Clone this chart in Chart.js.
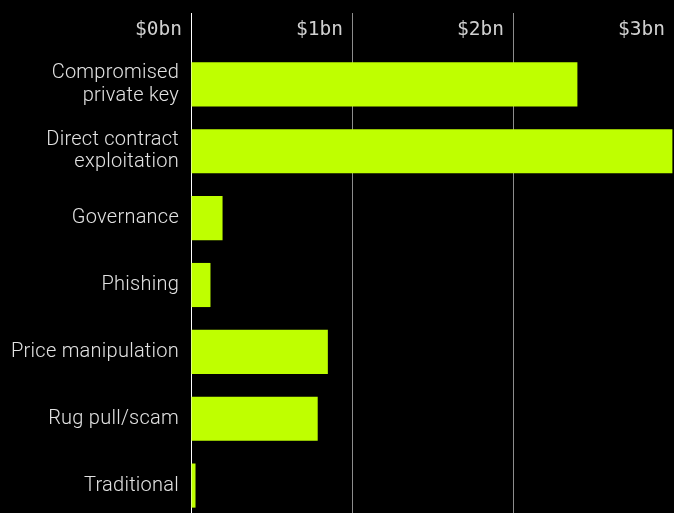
<!DOCTYPE html>
<html>
<head>
<meta charset="utf-8">
<script src="https://cdn.jsdelivr.net/npm/chart.js@4/dist/chart.umd.min.js"></script>
<style>
  html, body { margin: 0; padding: 0; background: #000; overflow: hidden; width: 674px; height: 513px; }
  canvas { display: block; }
</style>
</head>
<body>
<canvas id="c" width="674" height="519"></canvas>
<script>
const categories = [
  ["Compromised", "private key"],
  ["Direct contract", "exploitation"],
  "Governance",
  "Phishing",
  "Price manipulation",
  "Rug pull/scam",
  "Traditional"
];
const lossesBn = [2.40, 2.99, 0.196, 0.121, 0.85, 0.787, 0.028];
const tickValues = [0, 1, 2, 3];
const tickLabels = ["$0bn", "$1bn", "$2bn", "$3bn"];

const topTickLabels = {
  id: 'topTickLabels',
  beforeDraw(chart) {
    chart.ctx.letterSpacing = '0.25px';
  },
  afterDraw(chart) {
    const ctx = chart.ctx;
    const xs = chart.scales.x;
    ctx.save();
    ctx.letterSpacing = '0px';
    ctx.font = '19.5px "DejaVu Sans Mono", monospace';
    ctx.fillStyle = '#d0d0d0';
    ctx.textAlign = 'right';
    ctx.textBaseline = 'alphabetic';
    tickValues.forEach((v, i) => {
      ctx.fillText(tickLabels[i], xs.getPixelForValue(v) - 9, 35);
    });
    ctx.restore();
  }
};

new Chart(document.getElementById('c'), {
  type: 'bar',
  data: {
    labels: categories,
    datasets: [{
      data: lossesBn,
      backgroundColor: '#bfff00',
      borderWidth: 0,
      categoryPercentage: 1,
      barPercentage: 0.66
    }]
  },
  options: {
    indexAxis: 'y',
    responsive: false,
    animation: false,
    layout: { padding: { top: 13, left: 0, right: 0, bottom: 0 } },
    plugins: { legend: { display: false }, tooltip: { enabled: false } },
    scales: {
      x: {
        position: 'top',
        min: 0,
        max: 3,
        afterFit(scale) { scale.paddingLeft = 0; scale.paddingRight = 0; },
        ticks: { display: false, stepSize: 1 },
        border: { display: false },
        grid: {
          drawTicks: true,
          tickLength: 38,
          lineWidth: 1,
          color: (c) => (c.tick && c.tick.value === 0) ? '#ffffff' : '#8c8c8c'
        }
      },
      y: {
        afterFit(scale) { scale.width = 191; scale.paddingTop = 0; scale.paddingBottom = 0; },
        border: { display: false },
        grid: { display: false, drawTicks: false },
        ticks: {
          color: '#e2e2e2',
          padding: 12,
          font: { family: 'Roboto', size: 20, weight: '300', lineHeight: 1.12 }
        }
      }
    }
  },
  plugins: [topTickLabels]
});
</script>
</body>
</html>
